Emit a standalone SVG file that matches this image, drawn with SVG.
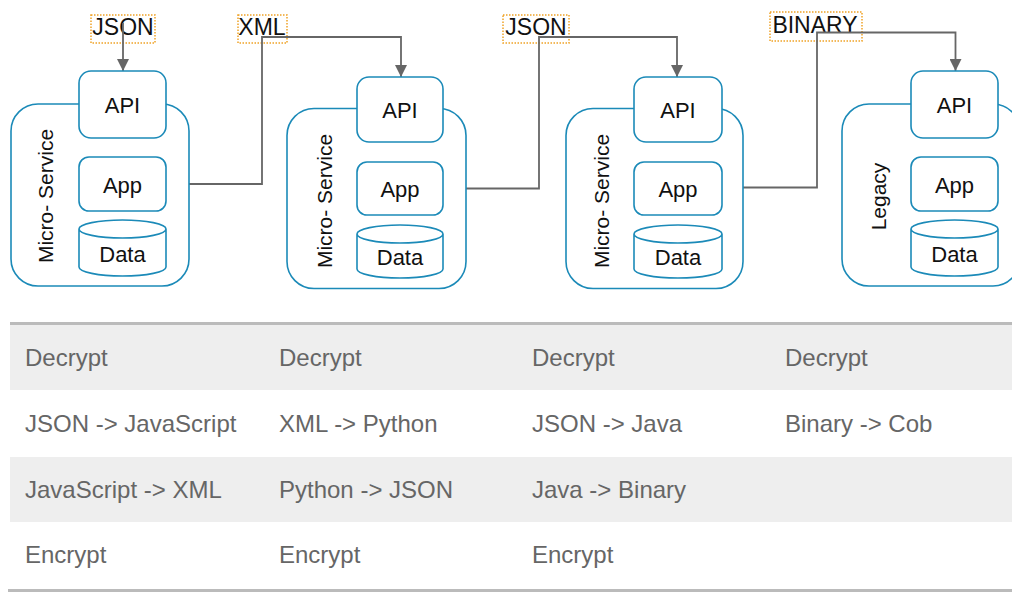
<svg xmlns="http://www.w3.org/2000/svg" width="1012" height="603" viewBox="0 0 1012 603">
  <style>
    .fmt { fill: none; stroke: #f0a226; stroke-width: 1.5; stroke-dasharray: 1.5 1.5; }
    .fmt-text { font-family: "Liberation Sans", Arial, sans-serif; font-size: 23px; fill: #111; text-anchor: middle; }
    .wire { fill: none; stroke: #666; stroke-width: 1.8; }
    .shell { fill: #fff; stroke: #1b8ab8; stroke-width: 1.6; }
    .part { fill: #fff; stroke: #1b8ab8; stroke-width: 1.6; }
    .label { font-family: "Liberation Sans", Arial, sans-serif; font-size: 22px; fill: #111; text-anchor: middle; }
    .side { font-family: "Liberation Sans", Arial, sans-serif; font-size: 21px; fill: #111; text-anchor: middle; }
    .cell { font-family: "Liberation Sans", Arial, sans-serif; font-size: 24px; fill: #666; }
    .band { fill: #eeeeee; }
    .rule { stroke: #bbbbbb; stroke-width: 3; }
  </style>
  <defs>
    <marker id="arrow" viewBox="0 0 12 12" refX="12" refY="6" markerWidth="12" markerHeight="12" markerUnits="userSpaceOnUse" orient="auto">
      <path d="M0,0 L12,6 L0,12 Z" fill="#666"/>
    </marker>
  </defs>

  <!-- payload format labels -->
  <g id="fmt-json-1">
    <rect class="fmt" x="91" y="15" width="64" height="28"/>
    <text class="fmt-text" x="123" y="35">JSON</text>
  </g>
  <g id="fmt-xml">
    <rect class="fmt" x="238" y="15" width="49" height="28"/>
    <text class="fmt-text" x="262" y="35">XML</text>
  </g>
  <g id="fmt-json-2">
    <rect class="fmt" x="503" y="15" width="66" height="28"/>
    <text class="fmt-text" x="536" y="35">JSON</text>
  </g>
  <g id="fmt-binary">
    <rect class="fmt" x="770" y="12" width="92" height="29"/>
    <text class="fmt-text" x="815" y="33">BINARY</text>
  </g>

  <!-- connectors -->
  <g id="connectors">
    <path class="wire" d="M123,23 L123,71" marker-end="url(#arrow)"/>
    <path class="wire" d="M166,184 L262,184 L262,37 L401,37 L401,77" marker-end="url(#arrow)"/>
    <path class="wire" d="M443,188.5 L539,188.5 L539,37 L677,37 L677,77" marker-end="url(#arrow)"/>
    <path class="wire" d="M722,187.5 L817,187.5 L817,32.5 L955.5,32.5 L955.5,71" marker-end="url(#arrow)"/>
  </g>

  <!-- service 1 -->
  <g id="service-1">
    <rect class="shell" x="11" y="104" width="178" height="182" rx="27"/>
    <text class="side" transform="translate(53,196) rotate(-90)">Micro- Service</text>
    <rect class="part" x="79" y="71" width="87" height="67" rx="12"/>
    <text class="label" x="122.5" y="113">API</text>
    <rect class="part" x="79" y="157" width="87" height="54" rx="10"/>
    <text class="label" x="122.5" y="193">App</text>
    <path class="part" d="M79,229 A43.5,9 0 0 1 166,229 L166,267 A43.5,9 0 0 1 79,267 Z M79,229 A43.5,9 0 0 0 166,229"/>
    <text class="label" x="122.5" y="262">Data</text>
  </g>

  <!-- service 2 -->
  <g id="service-2">
    <rect class="shell" x="287" y="108.5" width="179" height="180" rx="27"/>
    <text class="side" transform="translate(332,201) rotate(-90)">Micro- Service</text>
    <rect class="part" x="357" y="77" width="86" height="65" rx="12"/>
    <text class="label" x="400" y="118">API</text>
    <rect class="part" x="357" y="162" width="86" height="53" rx="10"/>
    <text class="label" x="400" y="197">App</text>
    <path class="part" d="M357,234 A43,9 0 0 1 443,234 L443,269 A43,9 0 0 1 357,269 Z M357,234 A43,9 0 0 0 443,234"/>
    <text class="label" x="400" y="265">Data</text>
  </g>

  <!-- service 3 -->
  <g id="service-3">
    <rect class="shell" x="566" y="108.5" width="177" height="180" rx="27"/>
    <text class="side" transform="translate(609,201) rotate(-90)">Micro- Service</text>
    <rect class="part" x="634" y="77" width="88" height="65" rx="12"/>
    <text class="label" x="678" y="118">API</text>
    <rect class="part" x="634" y="162" width="88" height="53" rx="10"/>
    <text class="label" x="678" y="197">App</text>
    <path class="part" d="M634,234 A44,9 0 0 1 722,234 L722,269 A44,9 0 0 1 634,269 Z M634,234 A44,9 0 0 0 722,234"/>
    <text class="label" x="678" y="265">Data</text>
  </g>

  <!-- legacy system -->
  <g id="legacy">
    <rect class="shell" x="842" y="104" width="178" height="182" rx="27"/>
    <text class="side" transform="translate(886,196.5) rotate(-90)">Legacy</text>
    <rect class="part" x="911" y="71" width="87" height="67" rx="12"/>
    <text class="label" x="954.5" y="113">API</text>
    <rect class="part" x="911" y="157" width="87" height="54" rx="10"/>
    <text class="label" x="954.5" y="193">App</text>
    <path class="part" d="M911,229 A43.5,9 0 0 1 998,229 L998,267 A43.5,9 0 0 1 911,267 Z M911,229 A43.5,9 0 0 0 998,229"/>
    <text class="label" x="954.5" y="262">Data</text>
  </g>

  <!-- processing steps table -->
  <g id="steps-table">
    <rect class="band" x="10" y="325" width="1002" height="65"/>
    <rect class="band" x="10" y="457" width="1002" height="65"/>
    <line class="rule" x1="10" y1="323.5" x2="1012" y2="323.5"/>
    <line class="rule" x1="8" y1="590.5" x2="1012" y2="590.5"/>

    <text class="cell" x="25" y="366">Decrypt</text>
    <text class="cell" x="279" y="366">Decrypt</text>
    <text class="cell" x="532" y="366">Decrypt</text>
    <text class="cell" x="785" y="366">Decrypt</text>

    <text class="cell" x="25" y="432">JSON -&gt; JavaScript</text>
    <text class="cell" x="279" y="432">XML -&gt; Python</text>
    <text class="cell" x="532" y="432">JSON -&gt; Java</text>
    <text class="cell" x="785" y="432">Binary -&gt; Cob</text>

    <text class="cell" x="25" y="497.5">JavaScript -&gt; XML</text>
    <text class="cell" x="279" y="497.5">Python -&gt; JSON</text>
    <text class="cell" x="532" y="497.5">Java -&gt; Binary</text>

    <text class="cell" x="25" y="563">Encrypt</text>
    <text class="cell" x="279" y="563">Encrypt</text>
    <text class="cell" x="532" y="563">Encrypt</text>
  </g>
</svg>
